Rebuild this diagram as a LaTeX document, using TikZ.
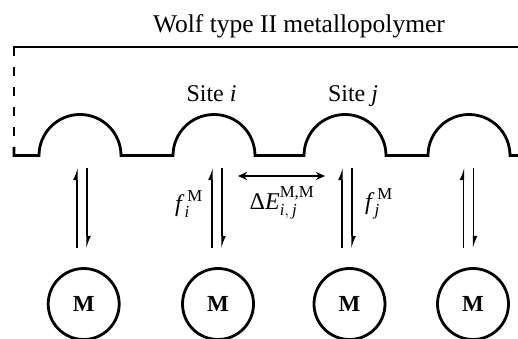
\documentclass[tikz,border=0pt]{standalone}
\usepackage{amsmath}
\usepackage{fontspec}
\setmainfont{Liberation Serif}
\usetikzlibrary{arrows.meta}
\begin{document}
\begin{tikzpicture}[x=1pt,y=1pt,
  outline/.style={line width=2.8pt},
  mnode/.style={circle,draw,line width=2.8pt,minimum size=71pt,inner sep=0pt,font=\fontsize{23}{24}\selectfont\bfseries},
  harp/.style={line width=1.1pt},
  harptip/.style={-{Latex[harpoon,length=10pt,width=8pt]}},
  lbl/.style={inner sep=0pt,font=\fontsize{24}{28}\selectfont}]
\useasboundingbox (0,0) rectangle (518,339);
% title and site labels
\node[lbl,anchor=base,font=\fontsize{25.5}{28}\selectfont] (title) at (299,306) {Wolf type II metallopolymer};
\node[lbl,anchor=base] (sitei) at (211.5,237.5) {Site \textit{i}};
\node[lbl,anchor=base] (sitej) at (353,237.5) {Site \textit{j}};
% backbone
\draw[outline] (14,283) -- (14,292) -- (520,292);
\draw[outline,dash pattern=on 9.5pt off 10.5pt] (14,292) -- (14,183.5);
\draw[outline] (14,192) -- (14,183.5) -- (39,183.5)
  arc[start angle=180,end angle=0,radius=41] -- (173,183.5)
  arc[start angle=180,end angle=0,radius=41] -- (304,183.5)
  arc[start angle=180,end angle=0,radius=41] -- (428,183.5)
  arc[start angle=180,end angle=0,radius=41] -- (520,183.5);
% metal circles
\node[mnode] (m1) at (83.7,35) {M};
\node[mnode] (m2) at (218,35) {M};
\node[mnode] (m3) at (349.5,35) {M};
\node[mnode] (m4) at (473,35) {M};
% equilibrium harpoons
\foreach \i/\x in {1/82,2/217,3/347,4/468.5}{
  \coordinate (a\i b) at (\x-5,91);
  \coordinate (a\i t) at (\x-5,171);
  \coordinate (b\i t) at (\x+5,171);
  \coordinate (b\i b) at (\x+5,91);
  \draw[harp,harptip] (a\i b) -- (a\i t);
  \draw[harp,harptip] (b\i t) -- (b\i b);
}
% interaction arrow
\coordinate (dl) at (238,163);
\coordinate (dr) at (325,163);
\draw[line width=1.6pt,{Stealth[length=9pt,width=8pt]}-{Stealth[length=9pt,width=8pt]}] (dl) -- (dr);
% labels
\node[lbl] (fi) at (189,135) {$\text{\itshape f\/}^{\,\text{M}}_{\text{\itshape i}}$};
\node[lbl] (dE) at (282,136) {$\text{Δ}\text{\itshape E\/}^{\text{M,M}}_{\text{\itshape i},\,\text{\itshape j}}$};
\node[lbl] (fj) at (379,135) {$\text{\itshape f\/}^{\,\text{M}}_{\text{\itshape j}}$};
\end{tikzpicture}
\end{document}
